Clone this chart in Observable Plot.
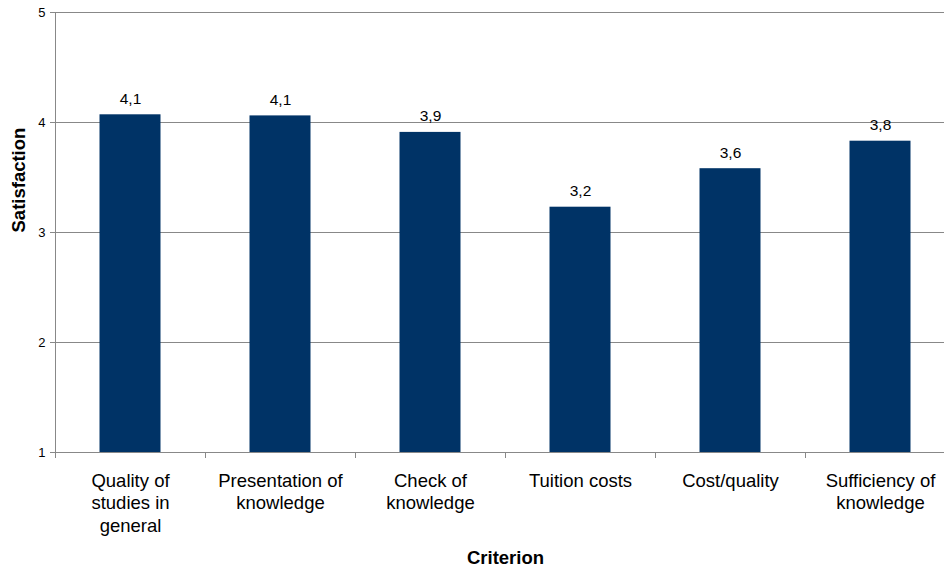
<!DOCTYPE html>
<html>
<head>
<meta charset="utf-8">
<script src="https://cdn.jsdelivr.net/npm/d3@7"></script>
<script src="https://cdn.jsdelivr.net/npm/@observablehq/plot@0.6"></script>
<style>
  html, body { margin: 0; padding: 0; background: white; overflow: hidden; }
</style>
</head>
<body>
<div id="chart"></div>
<script>
const categories = ["Quality of studies in general", "Presentation of knowledge", "Check of knowledge", "Tuition costs", "Cost/quality", "Sufficiency of knowledge"];
const tickLabels = ["Quality of\nstudies in\ngeneral", "Presentation of\nknowledge", "Check of\nknowledge", "Tuition costs", "Cost/quality", "Sufficiency of\nknowledge"];
const satisfaction = [4.07, 4.06, 3.91, 3.23, 3.58, 3.83];
const yTicks = [1, 2, 3, 4, 5];

const data = categories.map((c, i) => ({criterion: c, value: satisfaction[i]}));
const fmt = v => d3.format(".1f")(v).replace(".", ",");

const W = 944, H = 572, mL = 55, mR = -11;
const halfBand = (W - mL - mR) / categories.length / 2;
const grid = "#888888";

const chart = Plot.plot({
  width: W,
  height: H,
  marginTop: 12,
  marginBottom: 120,
  marginLeft: mL,
  marginRight: mR,
  style: {fontFamily: "'Liberation Sans', Arial, sans-serif", background: "white", overflow: "visible", color: "black"},
  x: {domain: categories, padding: 0, axis: null},
  y: {domain: [1, 5], axis: null},
  marks: [
    Plot.ruleY(yTicks.slice(1), {stroke: grid, strokeWidth: 1}),
    Plot.barY(data, {x: "criterion", y1: 1, y2: "value", fill: "#003366", insetLeft: 44.5, insetRight: 44.5}),
    Plot.ruleY([1], {stroke: grid}),
    Plot.frame({anchor: "left", stroke: grid}),
    Plot.axisY({ticks: yTicks, tickSize: 5, tickPadding: 5, fontSize: 13, label: null, stroke: grid, fill: "black", tickFormat: d => String(d)}),
    Plot.axisX({tickSize: 6, tickFormat: () => "", dx: -halfBand, label: null, stroke: grid}),
    Plot.axisX({tickSize: 0, tickPadding: 18, fontSize: 18.5, lineHeight: 1.22, label: null, fill: "black",
      tickFormat: d => tickLabels[categories.indexOf(d)]}),
    Plot.text(data, {x: "criterion", y: "value", text: d => fmt(d.value), dy: -16, fontSize: 15.5, fill: "black"}),
    Plot.text(["Criterion"], {frameAnchor: "bottom", dy: 111, fontSize: 18.5, fontWeight: "bold", fill: "black"}),
    Plot.text(["Satisfaction"], {frameAnchor: "left", dx: -36, rotate: -90, fontSize: 18.5, fontWeight: "bold", fill: "black"})
  ]
});
document.getElementById("chart").appendChild(chart);
</script>
</body>
</html>
